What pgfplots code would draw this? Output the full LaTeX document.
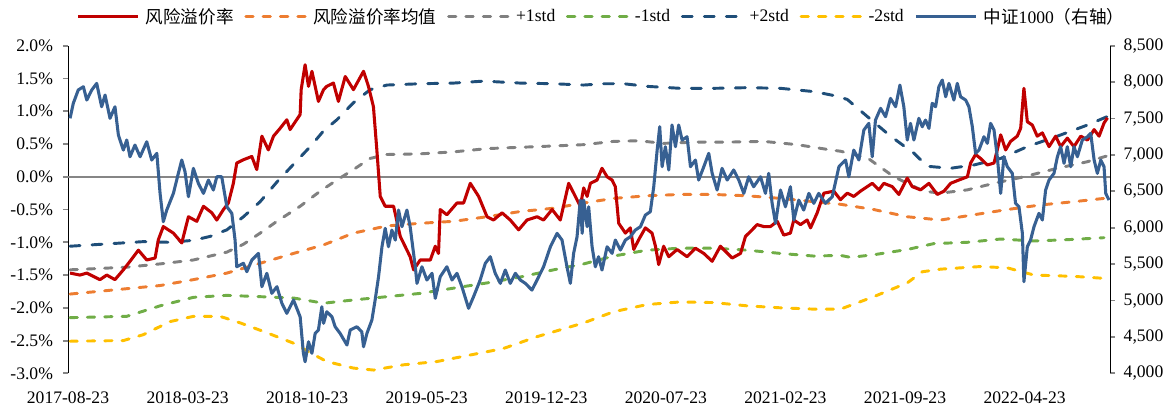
\documentclass[border=0pt]{standalone}
\usepackage{fontspec}
\setmainfont{Liberation Serif}
\newfontfamily\cjk{Noto Sans CJK SC}
\usepackage{pgfplots}
\pgfplotsset{compat=1.18}
\definecolor{cred}{RGB}{192,0,0}
\definecolor{corange}{RGB}{237,125,49}
\definecolor{cgray}{RGB}{128,128,128}
\definecolor{cgreen}{RGB}{112,173,71}
\definecolor{cnavy}{RGB}{31,78,121}
\definecolor{cyellow}{RGB}{255,192,0}
\definecolor{cblue}{RGB}{55,96,146}
\definecolor{caxis}{RGB}{134,134,134}
\begin{document}
\begin{tikzpicture}
\pgfplotsset{
  base/.style={width=781.5pt, height=245.7pt, scale only axis, at={(0,0)}, anchor=south west,
    xmin=0, xmax=61,
    /pgf/number format/assume math mode=true,
    tick label style={font=\fontsize{13.2}{15}\selectfont},
    tick align=outside, major tick length=3.75pt,
    every axis y line/.append style={draw=caxis, line width=1.4pt},
    ytick style={draw=caxis, line width=1.4pt},
  },
  dsh/.style={line width=2.2pt, line cap=round, dash pattern=on 5.5pt off 7.5pt},
  ndsh/.style={line width=2.2pt, line cap=round, dash pattern=on 7.5pt off 9pt},
}
\begin{axis}[base,
  ymin=-3, ymax=2,
  axis y line*=left, axis x line*=bottom,
  x axis line style={draw=none}, xtick style={draw=none},
  xtick={0,7,14,21,28,35,42,49,56},
  xticklabels={2017-08-23,2018-03-23,2018-10-23,2019-05-23,2019-12-23,2020-07-23,2021-02-23,2021-09-23,2022-04-23},
  xticklabel style={yshift=-6.5pt},
  ytick={-3,-2.5,-2,-1.5,-1,-0.5,0,0.5,1,1.5,2},
  yticklabel={\pgfmathprintnumber[fixed,fixed zerofill,precision=1]{\tick}\%},
  yticklabel style={xshift=-4pt},
  legend columns=-1,
  legend style={at={(rel axis cs:0.008,1.089)}, anchor=west, draw=none, fill=none, inner sep=0pt,
    font=\fontsize{13.2}{15}\selectfont, nodes={inner sep=0pt},
    /tikz/every odd column/.append style={column sep=4.5pt},
    /tikz/every even column/.append style={column sep=8pt}},
  legend image code/.code={\draw[#1] (0pt,0pt) -- (45pt,0pt);},
]
\addlegendimage{cred, line width=2.3pt}
\addlegendimage{corange, dsh}
\addlegendimage{cgray, dsh}
\addlegendimage{cgreen, dsh}
\addlegendimage{cnavy, ndsh}
\addlegendimage{cyellow, dsh}
\addlegendimage{cblue, line width=2.3pt}
\legend{{\cjk 风险溢价率},{\cjk 风险溢价率均值},+1std,-1std,+2std,-2std,{\cjk 中证}1000{\cjk （右轴）}}
\addplot[forget plot, caxis, line width=1.1pt] coordinates {(0,0) (61,0)};
% mean
\addplot[forget plot, corange, dsh] coordinates {(0.12,-1.79)(5.39,-1.66)(7.34,-1.57)(9.30,-1.47)(11.25,-1.32)(13.20,-1.17)(14.96,-1.04)(16.71,-0.86)(18.67,-0.75)(20.62,-0.71)(22.57,-0.68)(24.53,-0.61)(26.48,-0.53)(28.43,-0.48)(30.19,-0.40)(31.94,-0.33)(33.90,-0.29)(35.85,-0.27)(37.80,-0.27)(39.76,-0.29)(41.71,-0.33)(43.66,-0.38)(45.22,-0.42)(47.17,-0.50)(49.13,-0.61)(51.08,-0.66)(53.03,-0.58)(54.99,-0.50)(56.94,-0.43)(58.89,-0.38)(60.65,-0.33)};
% +1std
\addplot[forget plot, cgray, dsh] coordinates {(0.12,-1.42)(3.44,-1.38)(5.39,-1.33)(7.34,-1.27)(9.30,-1.15)(10.27,-1.03)(11.25,-0.86)(12.23,-0.68)(13.59,-0.45)(14.76,-0.22)(15.74,-0.05)(16.71,0.11)(17.69,0.28)(18.67,0.34)(20.62,0.35)(22.57,0.38)(24.53,0.43)(26.48,0.45)(28.43,0.47)(30.19,0.49)(31.94,0.54)(33.41,0.55)(34.87,0.51)(36.83,0.53)(38.78,0.53)(40.73,0.54)(42.69,0.49)(44.64,0.41)(45.22,0.39)(46.79,0.29)(48.35,0.00)(50.10,-0.22)(51.08,-0.25)(52.65,-0.20)(54.21,-0.10)(55.96,0.00)(57.92,0.13)(59.68,0.23)(60.85,0.32)};
% -1std
\addplot[forget plot, cgreen, dsh] coordinates {(0.12,-2.15)(3.44,-2.13)(5.39,-1.97)(7.34,-1.84)(9.30,-1.81)(11.25,-1.83)(13.20,-1.85)(14.96,-1.93)(16.71,-1.88)(18.67,-1.83)(20.62,-1.78)(22.57,-1.70)(24.53,-1.62)(26.48,-1.53)(28.43,-1.42)(30.19,-1.33)(31.94,-1.21)(33.90,-1.12)(35.85,-1.09)(37.80,-1.09)(39.76,-1.12)(41.71,-1.17)(43.66,-1.21)(45.22,-1.20)(45.81,-1.23)(47.17,-1.19)(49.13,-1.11)(50.69,-1.02)(52.65,-1.00)(54.60,-0.95)(56.55,-0.98)(58.50,-0.96)(60.65,-0.93)};
% +2std
\addplot[forget plot, cnavy, ndsh] coordinates {(0.12,-1.06)(4.41,-0.99)(5.98,-1.00)(7.34,-0.97)(8.32,-0.91)(9.30,-0.81)(10.27,-0.61)(11.25,-0.38)(12.23,-0.08)(13.20,0.19)(14.18,0.46)(14.96,0.70)(15.74,0.87)(16.71,1.13)(17.69,1.33)(18.67,1.40)(20.62,1.42)(22.57,1.43)(24.33,1.46)(26.48,1.43)(28.43,1.42)(30.19,1.40)(31.36,1.42)(32.53,1.42)(33.90,1.38)(35.85,1.35)(37.80,1.35)(39.76,1.36)(41.71,1.35)(43.66,1.30)(45.03,1.23)(45.62,1.18)(46.79,0.92)(48.15,0.62)(49.52,0.36)(50.30,0.16)(51.67,0.13)(53.03,0.18)(54.60,0.28)(56.16,0.46)(57.92,0.62)(59.68,0.79)(60.85,0.92)};
% -2std
\addplot[forget plot, cyellow, dsh] coordinates {(0.12,-2.51)(3.24,-2.50)(4.41,-2.41)(5.98,-2.21)(7.34,-2.13)(8.90,-2.13)(10.08,-2.23)(11.64,-2.38)(13.20,-2.54)(14.57,-2.74)(15.15,-2.82)(16.71,-2.92)(17.88,-2.95)(19.64,-2.87)(21.60,-2.82)(23.55,-2.72)(25.50,-2.62)(27.46,-2.44)(30.19,-2.23)(31.94,-2.06)(33.90,-1.95)(35.85,-1.91)(37.80,-1.92)(39.76,-1.97)(41.71,-2.00)(43.66,-2.02)(45.22,-2.02)(47.17,-1.83)(49.13,-1.62)(50.01,-1.45)(51.08,-1.41)(53.42,-1.37)(54.99,-1.39)(56.55,-1.50)(58.89,-1.52)(60.65,-1.55)};
% risk premium
\addplot[forget plot, cred, line width=2.3pt, line join=round] coordinates {(0.12,-1.47)(0.70,-1.50)(1.10,-1.47)(1.87,-1.57)(2.27,-1.50)(2.75,-1.57)(3.24,-1.42)(3.63,-1.29)(4.12,-1.12)(4.61,-1.27)(5.10,-1.24)(5.29,-0.96)(5.58,-0.76)(6.17,-0.86)(6.66,-1.01)(7.05,-0.61)(7.54,-0.68)(7.93,-0.45)(8.42,-0.55)(8.71,-0.66)(9.10,-0.50)(9.39,-0.40)(9.68,-0.10)(9.88,0.21)(10.27,0.26)(10.76,0.31)(11.05,0.11)(11.35,0.62)(11.73,0.41)(12.03,0.62)(12.42,0.74)(12.81,0.87)(13.00,0.72)(13.59,0.95)(13.65,1.33)(13.88,1.71)(14.08,1.38)(14.28,1.61)(14.66,1.15)(14.96,1.33)(15.15,1.38)(15.54,1.43)(15.83,1.15)(16.23,1.53)(16.71,1.33)(17.30,1.61)(17.59,1.38)(17.88,1.07)(18.08,0.41)(18.28,-0.30)(18.57,-0.45)(19.06,-0.45)(19.45,-0.91)(20.03,-1.22)(20.23,-1.42)(20.62,-1.27)(21.21,-1.27)(21.50,-1.06)(21.69,-1.17)(21.79,-0.50)(22.18,-0.58)(22.77,-0.40)(23.16,-0.40)(23.55,-0.10)(24.04,-0.30)(24.53,-0.61)(24.91,-0.66)(25.41,-0.55)(25.89,-0.66)(26.38,-0.81)(26.87,-0.66)(27.46,-0.61)(27.84,-0.66)(28.34,-0.50)(28.82,-0.66)(29.31,-0.10)(29.70,-0.30)(29.99,-0.45)(30.19,-0.17)(30.39,-0.30)(30.58,-0.10)(30.97,-0.05)(31.26,0.13)(31.56,0.00)(31.85,-0.05)(32.04,-0.15)(32.24,-0.71)(32.63,-0.86)(32.92,-0.78)(33.12,-1.11)(33.41,-0.96)(33.80,-0.78)(34.19,-0.86)(34.39,-1.06)(34.58,-1.34)(34.87,-1.06)(35.17,-1.22)(35.66,-1.11)(36.24,-1.22)(36.73,-1.09)(37.22,-1.17)(37.71,-1.29)(38.19,-1.06)(38.88,-1.24)(39.37,-1.17)(39.66,-0.91)(40.05,-0.81)(40.34,-0.73)(40.73,-0.76)(41.12,-0.76)(41.52,-0.68)(41.90,-0.89)(42.29,-0.86)(42.49,-0.66)(42.88,-0.73)(43.27,-0.66)(43.47,-0.78)(43.86,-0.55)(44.25,-0.25)(44.83,-0.22)(45.22,-0.35)(45.62,-0.25)(46.00,-0.30)(46.39,-0.22)(47.08,-0.10)(47.47,-0.20)(47.76,-0.10)(48.25,-0.15)(48.64,-0.27)(49.13,-0.02)(49.42,-0.15)(49.91,-0.20)(50.40,-0.10)(50.89,-0.27)(51.28,-0.22)(51.67,-0.10)(52.15,-0.05)(52.65,0.00)(52.84,0.21)(53.13,0.34)(53.42,0.28)(53.82,0.18)(54.21,0.21)(54.40,0.41)(54.60,0.64)(54.89,0.41)(55.18,0.54)(55.57,0.62)(55.77,0.74)(55.96,1.35)(56.16,0.84)(56.45,0.79)(56.74,0.62)(57.04,0.67)(57.43,0.46)(57.82,0.62)(58.11,0.46)(58.50,0.59)(58.89,0.46)(59.29,0.62)(59.68,0.56)(60.07,0.72)(60.36,0.62)(60.65,0.82)(60.85,0.90)};
\end{axis}
\begin{axis}[base,
  ymin=4000, ymax=8500,
  axis y line*=right, axis x line=none,
  ytick={4000,4500,5000,5500,6000,6500,7000,7500,8000,8500},
  yticklabel style={/pgf/number format/.cd, 1000 sep={,}, /tikz/.cd, xshift=3pt},
]
\addplot[cblue, line width=2.3pt, line join=round] coordinates {(0.12,7503)(0.31,7709)(0.60,7892)(0.90,7937)(1.10,7754)(1.39,7892)(1.68,7983)(1.97,7662)(2.17,7823)(2.46,7503)(2.75,7662)(2.95,7273)(3.24,7067)(3.44,7205)(3.63,6975)(3.92,7136)(4.22,6975)(4.61,7181)(4.90,6930)(5.20,7022)(5.39,6472)(5.58,6083)(5.78,6243)(6.17,6472)(6.46,6747)(6.66,6930)(6.85,6769)(7.05,6426)(7.34,6816)(7.63,6610)(7.93,6472)(8.22,6655)(8.51,6518)(8.71,6700)(9.00,6700)(9.30,6288)(9.59,6198)(9.78,5831)(9.88,5464)(10.27,5511)(10.47,5396)(10.76,5556)(11.15,5648)(11.35,5190)(11.64,5374)(11.93,5099)(12.23,5190)(12.52,4962)(12.81,4824)(13.20,5007)(13.59,4777)(13.78,4275)(13.88,4159)(14.08,4434)(14.28,4275)(14.47,4549)(14.66,4595)(14.86,4915)(14.96,4687)(15.15,4846)(15.45,4777)(15.64,4640)(15.93,4549)(16.33,4389)(16.52,4595)(16.91,4640)(17.20,4571)(17.30,4365)(17.50,4549)(17.79,4732)(17.98,5007)(18.18,5327)(18.38,5739)(18.57,5992)(18.76,5739)(18.96,5968)(19.16,5831)(19.35,6243)(19.55,6014)(19.84,6243)(20.03,6014)(20.33,5464)(20.43,5236)(20.72,5464)(21.01,5282)(21.31,5374)(21.50,5030)(21.79,5327)(22.18,5464)(22.48,5282)(22.77,5374)(23.06,5190)(23.45,4893)(23.74,5052)(24.13,5282)(24.43,5511)(24.72,5602)(25.01,5374)(25.31,5236)(25.60,5419)(25.89,5236)(26.19,5374)(26.48,5282)(26.77,5236)(27.16,5144)(27.46,5282)(27.84,5464)(28.24,5739)(28.63,5923)(28.92,5831)(29.21,5464)(29.41,5236)(29.60,5648)(29.80,5876)(29.99,6380)(30.10,5923)(30.19,6380)(30.39,6014)(30.48,6288)(30.68,5739)(30.87,5464)(31.06,5602)(31.26,5419)(31.56,5739)(31.85,5648)(32.04,5831)(32.34,5694)(32.63,5831)(32.92,5876)(33.21,5968)(33.51,6014)(33.80,6174)(34.09,6220)(34.29,6563)(34.49,7067)(34.64,7387)(34.78,6838)(34.97,7113)(35.17,6793)(35.36,7411)(35.56,7113)(35.75,7411)(35.95,7205)(36.24,7250)(36.44,6838)(36.73,6930)(36.92,6655)(37.22,6838)(37.51,7022)(37.71,6747)(38.00,6518)(38.29,6816)(38.59,6655)(38.97,6793)(39.27,6655)(39.56,6472)(39.85,6700)(40.14,6563)(40.54,6700)(40.83,6472)(41.02,6747)(41.22,6335)(41.42,6060)(41.71,6518)(42.00,6288)(42.29,6563)(42.49,6106)(42.78,6380)(43.07,6243)(43.37,6472)(43.66,6335)(43.95,6472)(44.34,6335)(44.74,6426)(45.13,6838)(45.22,6861)(45.52,6930)(45.71,6700)(46.00,7067)(46.30,6930)(46.59,7342)(46.88,7434)(47.08,6975)(47.27,7479)(47.57,7640)(47.86,7525)(48.15,7777)(48.45,7662)(48.70,7960)(48.93,7662)(49.13,7205)(49.32,7434)(49.52,7205)(49.81,7503)(50.01,7387)(50.20,7479)(50.40,7365)(50.59,7709)(50.79,7662)(50.98,7937)(51.18,8029)(51.38,7799)(51.57,7983)(51.86,7754)(52.06,7983)(52.25,7799)(52.55,7754)(52.74,7662)(52.94,7387)(53.13,7022)(53.33,7067)(53.62,7250)(53.82,7159)(54.01,7434)(54.21,7342)(54.40,6975)(54.60,6472)(54.79,6975)(54.99,6838)(55.28,6747)(55.47,6335)(55.67,6288)(55.87,5923)(55.96,5258)(56.16,5739)(56.35,5831)(56.55,6014)(56.84,6198)(57.04,6106)(57.23,6518)(57.43,6655)(57.72,6747)(57.92,6975)(58.11,7113)(58.31,6885)(58.50,7113)(58.70,6838)(58.89,7113)(59.09,6975)(59.38,7205)(59.68,7250)(59.87,7297)(60.07,6930)(60.26,6747)(60.46,6930)(60.65,6838)(60.75,6472)(60.94,6380)};
\end{axis}
\pgfresetboundingbox
\path[use as bounding box] (-51pt,-25.3pt) rectangle (828.75pt,280pt);
\end{tikzpicture}
\end{document}
